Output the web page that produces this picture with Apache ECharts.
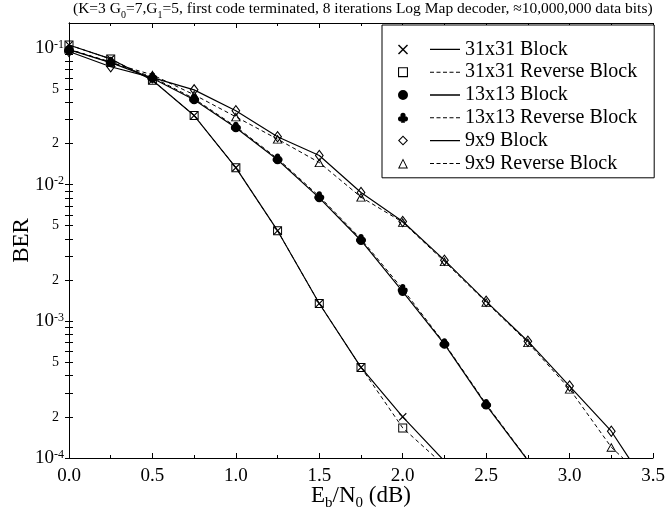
<!DOCTYPE html>
<html>
<head>
<meta charset="utf-8">
<script src="https://cdn.jsdelivr.net/npm/echarts@6/dist/echarts.min.js"></script>
<style>
  html, body { margin: 0; padding: 0; background: #fff; }
  #chart { width: 665px; height: 510px; }
</style>
</head>
<body>
<div id="chart"></div>
<script>
// Eb/N0 (dB)
const ebno = [0, 0.25, 0.5, 0.75, 1.0, 1.25, 1.5, 1.75, 2.0, 2.25, 2.5, 2.75, 3.0, 3.25, 3.5];

// BER values
const ber31Block = [0.105, 0.083, 0.058, 0.032, 0.0133, 0.0046, 0.00135, 0.00046, 0.0002, 0.000095];
const ber31Rev = [0.105, 0.083, 0.058, 0.032, 0.0133, 0.0046, 0.00135, 0.00046, 0.000166, 0.000088];
const ber13Block = [0.097, 0.078, 0.060, 0.0417, 0.026, 0.0152, 0.0080, 0.0039, 0.00165, 0.00068, 0.000244, 0.000096];
const ber13Rev = [0.097, 0.079, 0.061, 0.0425, 0.0265, 0.0155, 0.0082, 0.0040, 0.00172, 0.00069, 0.000248, 0.000097];
const ber9Block = [0.094, 0.0727, 0.0605, 0.0493, 0.0347, 0.0224, 0.0163, 0.00875, 0.00537, 0.0028, 0.0014, 0.000715, 0.000336, 0.000157, 0.000054];
const ber9Rev = [0.098, 0.078, 0.0635, 0.0454, 0.0313, 0.0215, 0.0145, 0.0081, 0.0053, 0.00274, 0.00138, 0.0007, 0.00032, 0.00012, 0.000062];

const names = ['31x31 Block', '31x31 Reverse Block', '13x13 Block', '13x13 Reverse Block', '9x9 Block', '9x9 Reverse Block'];

// y axis ticks / labels
const yMin = 1e-4;
const yMax = 0.152;
const decades = [1e-4, 1e-3, 1e-2, 1e-1];
const tickMult = [1, 2, 3, 4, 5, 6, 7, 8, 9];
const labelMult = [1, 2, 5];

const yTicks = [];
const yLabels = [];
decades.forEach(d => {
  tickMult.forEach(m => { if (m * d <= yMax) yTicks.push(m * d); });
  labelMult.forEach(m => { if (m * d <= yMax) yLabels.push(m * d); });
});

const FONT = '"Liberation Serif", "DejaVu Serif", serif';

// symbol shapes, 10x10 box
const shp = {
  cross: 'M1,0L5,4L9,0L10,1L6,5L10,9L9,10L5,6L1,10L0,9L4,5L0,1Z',
  square: 'M0,0L10,0L10,10L0,10Z M1.1,1.1L1.1,8.9L8.9,8.9L8.9,1.1Z',
  circle: 'M0,5A5,5 0 1 1 10,5A5,5 0 1 1 0,5Z',
  club: 'M2.4,2.6A2.6,2.6 0 1 1 7.6,2.6A2.6,2.6 0 1 1 2.4,2.6Z M0,6A2.6,2.6 0 1 1 5.2,6A2.6,2.6 0 1 1 0,6Z M4.8,6A2.6,2.6 0 1 1 10,6A2.6,2.6 0 1 1 4.8,6Z M4.3,5.5L5.7,5.5L7,10L3,10Z',
  diamond: 'M5,0L10,5L5,10L0,5Z M5,1.5L1.5,5L5,8.5L8.5,5Z',
  triangle: 'M5,0L10,10L0,10Z M5,2.2L1.6,9.1L8.4,9.1Z'
};
// legend line samples (to the right of the symbol)
const lineSolid = 'M32,4.3L62,4.3L62,5.7L32,5.7Z';
const lineDash = 'M32,4.5L36,4.5L36,5.5L32,5.5Z M38.5,4.5L42.5,4.5L42.5,5.5L38.5,5.5Z M45,4.5L49,4.5L49,5.5L45,5.5Z M51.5,4.5L55.5,4.5L55.5,5.5L51.5,5.5Z M58,4.5L62,4.5L62,5.5L58,5.5Z';

const styles = [
  { data: ber31Block, shape: 'cross', size: 8, dash: false },
  { data: ber31Rev, shape: 'square', size: 9, dash: true },
  { data: ber13Block, shape: 'circle', size: 9, dash: false },
  { data: ber13Rev, shape: 'club', size: 10, dash: true },
  { data: ber9Block, shape: 'diamond', size: [9, 12], dash: false },
  { data: ber9Rev, shape: 'triangle', size: [10, 9], dash: true }
];

const series = styles.map((s, i) => ({
  name: names[i],
  type: 'line',
  data: s.data.map((v, j) => [ebno[j], v]),
  symbol: 'path://' + shp[s.shape],
  symbolSize: s.size,
  symbolKeepAspect: false,
  showAllSymbol: true,
  clip: true,
  itemStyle: { color: '#000', borderWidth: 0 },
  lineStyle: { color: '#000', width: s.dash ? 1 : 1.2, type: s.dash ? [4, 3] : 'solid' },
  z: 2 + i
}));

const legendData = styles.map((s, i) => ({
  name: names[i],
  icon: 'path://' + shp[s.shape] + ' ' + (s.dash ? lineDash : lineSolid)
}));

// 10^n for decades, plain mantissa otherwise
const yLabelFmt = v => {
  const e = Math.floor(Math.log10(v) + 1e-9);
  const m = Math.round(v / Math.pow(10, e));
  if (m === 1) return '{b|10}{e|' + e + '}';
  return '{m|' + m + '}';
};

const logAxis = {
  type: 'log',
  logBase: 10,
  min: yMin,
  max: yMax,
  axisLine: { show: true, lineStyle: { color: '#000', width: 1 } },
  axisTick: { show: true, inside: true, length: 4, customValues: yTicks, lineStyle: { color: '#000' } },
  splitLine: { show: false },
  minorTick: { show: false },
  minorSplitLine: { show: false }
};

const valAxis = {
  type: 'value',
  min: 0,
  max: 3.5,
  interval: 0.5,
  axisLine: { show: true, lineStyle: { color: '#000', width: 1 } },
  axisTick: { show: true, inside: true, length: 5, lineStyle: { color: '#000' } },
  minorTick: { show: true, splitNumber: 2, length: 3, lineStyle: { color: '#000' } },
  splitLine: { show: false }
};

const chart = echarts.init(document.getElementById('chart'), null, { renderer: 'canvas' });

chart.setOption({
  animation: false,
  backgroundColor: '#fff',
  textStyle: { fontFamily: FONT, color: '#000' },
  title: {
    left: 73,
    top: 1,
    padding: 0,
    text: '{a|(K=3 G}{s|0}{a|=7,G}{s|1}{a|=5, first code terminated, 8 iterations Log Map decoder, \u224810,000,000 data bits)}',
    textStyle: {
      fontFamily: FONT,
      fontWeight: 'normal',
      color: '#000',
      rich: {
        a: { fontFamily: FONT, fontSize: 15.5, color: '#000', verticalAlign: 'bottom', padding: [0, 0, 3, 0] },
        s: { fontFamily: FONT, fontSize: 10, color: '#000', verticalAlign: 'bottom' }
      }
    }
  },
  grid: {
    left: 69,
    right: 12,
    top: 23,
    bottom: 52,
    containLabel: false,
    outerBoundsMode: 'none'
  },
  legend: {
    orient: 'vertical',
    left: 382,
    top: 25,
    padding: [13, 17, 3, 16],
    itemGap: 0,
    itemWidth: 62,
    itemHeight: 10,
    backgroundColor: '#fff',
    borderColor: '#000',
    borderWidth: 1,
    borderRadius: 0,
    itemStyle: { color: '#000', borderWidth: 0 },
    textStyle: { fontFamily: FONT, fontSize: 20, color: '#000', lineHeight: 22.8 },
    data: legendData
  },
  xAxis: [
    Object.assign({}, valAxis, {
      position: 'bottom',
      name: '{a|E}{s|b}{a|/N}{s|0}{a| (dB)}',
      nameLocation: 'middle',
      nameGap: 26,
      nameMoveOverlap: false,
      nameTextStyle: {
        rich: {
          a: { fontFamily: FONT, fontSize: 23, color: '#000', verticalAlign: 'bottom', padding: [0, 0, 4, 0] },
          s: { fontFamily: FONT, fontSize: 15, color: '#000', verticalAlign: 'bottom' }
        }
      },
      axisLabel: {
        margin: 9,
        fontFamily: FONT,
        fontSize: 19,
        color: '#000',
        formatter: v => v.toFixed(1)
      }
    }),
    Object.assign({}, valAxis, {
      position: 'top',
      axisLabel: { show: false }
    })
  ],
  yAxis: [
    Object.assign({}, logAxis, {
      position: 'left',
      name: 'BER',
      nameLocation: 'middle',
      nameGap: 36,
      nameMoveOverlap: false,
      nameRotate: 90,
      nameTextStyle: { fontFamily: FONT, fontSize: 23, color: '#000' },
      axisLabel: {
        show: true,
        margin: 5,
        customValues: yLabels,
        formatter: yLabelFmt,
        rich: {
          b: { fontFamily: FONT, fontSize: 19, color: '#000', verticalAlign: 'bottom' },
          e: { fontFamily: FONT, fontSize: 12, color: '#000', verticalAlign: 'top' },
          m: { fontFamily: FONT, fontSize: 14, color: '#000', padding: [0, 5, 0, 0] }
        }
      }
    }),
    Object.assign({}, logAxis, {
      position: 'right',
      axisLabel: { show: false }
    })
  ],
  series: series
});
</script>
</body>
</html>
